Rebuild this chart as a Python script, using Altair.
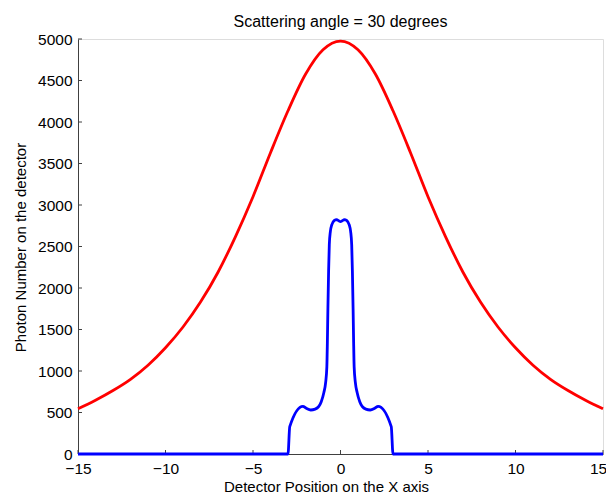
import altair as alt
import pandas as pd

# ---- data ----
red_x = [-15, -14, -13, -12, -11, -10, -9, -8, -7, -6, -5, -4, -3, -2, -1, 0,
         1, 2, 3, 4, 5, 6, 7, 8, 9, 10, 11, 12, 13, 14, 15]
red_y = [545, 648, 765, 900, 1070, 1280, 1530, 1830, 2190, 2620, 3100, 3630, 4135, 4575, 4870, 4975,
         4870, 4575, 4135, 3630, 3100, 2620, 2190, 1830, 1530, 1280, 1070, 900, 765, 648, 545]

blue_x = [-15, -3.0, -2.9, -2.15, -1.95, -1.7, -1.45, -1.25, -1.1, -0.95, -0.85, -0.78, -0.75,
          -0.72, -0.68, -0.64, -0.58, -0.5, -0.35, -0.22, -0.1, 0,
          0.1, 0.22, 0.35, 0.5, 0.58, 0.64, 0.68, 0.72, 0.75, 0.78, 0.85, 0.95, 1.1, 1.25,
          1.45, 1.7, 1.95, 2.15, 2.9, 3.0, 15]
blue_y = [0, 0, 330, 575, 550, 530, 540, 570, 630, 740, 860, 1050, 1350,
          1750, 2200, 2520, 2680, 2760, 2815, 2825, 2810, 2800,
          2810, 2825, 2815, 2760, 2680, 2520, 2200, 1750, 1350, 1050, 860, 740, 630, 570,
          540, 530, 550, 575, 330, 0, 0]

x_ticks = [-15, -10, -5, 0, 5, 10, 15]
y_ticks = [0, 500, 1000, 1500, 2000, 2500, 3000, 3500, 4000, 4500, 5000]

W, H = 525, 415
FONT = "Liberation Sans"
AX = "#404040"

red = pd.DataFrame({"x": red_x, "y": red_y})
blue = pd.DataFrame({"x": blue_x, "y": blue_y})
xt = pd.DataFrame({"t": x_ticks})
yt = pd.DataFrame({"t": y_ticks})

xscale = alt.Scale(domain=[-15, 15], nice=False, zero=False)
yscale = alt.Scale(domain=[0, 5000], nice=False, zero=False)

xaxis = alt.Axis(values=x_ticks, format="d", title="Detector Position on the X axis",
                 ticks=False, tickSize=0, labelPadding=7, grid=False, labelFlush=False,
                 labelOffset=alt.ExprRef(expr="datum.value == 15 ? -5 : 0"),
                 domainColor=AX, labelColor="black", labelFontSize=15.5, labelFont=FONT,
                 titleFontSize=15, titleFont=FONT, titleFontWeight="normal", titleColor="black",
                 titleX=248, titleY=37, titleBaseline="alphabetic", titleAlign="center")
yaxis = alt.Axis(values=y_ticks, format="d", title="Photon Number on the detector",
                 ticks=False, tickSize=0, labelPadding=6, grid=False, labelFlush=False,
                 domainColor=AX, labelColor="black", labelFontSize=15.5, labelFont=FONT,
                 titleFontSize=15, titleFont=FONT, titleFontWeight="normal", titleColor="black",
                 titleX=-58, titleY=208, titleAngle=270, titleBaseline="middle", titleAlign="center")

X = lambda f: alt.X(f, type="quantitative", scale=xscale, axis=xaxis)
Y = lambda f: alt.Y(f, type="quantitative", scale=yscale, axis=yaxis)

red_line = alt.Chart(red).mark_line(color="#ff0000", strokeWidth=2.8, interpolate="monotone").encode(
    x=X("x"), y=Y("y"))
blue_line = alt.Chart(blue).mark_line(color="#0000ff", strokeWidth=2.8, interpolate="monotone").encode(
    x=X("x"), y=Y("y"))

xtick_rules = alt.Chart(xt).mark_rule(color=AX, strokeWidth=1).encode(
    x=X("t"), y=alt.value(H), y2=alt.value(H - 4))
ytick_rules = alt.Chart(yt).mark_rule(color=AX, strokeWidth=1).encode(
    y=Y("t"), x=alt.value(0), x2=alt.value(4))

chart = alt.layer(xtick_rules, ytick_rules, red_line, blue_line).properties(
    width=W, height=H,
    title=alt.TitleParams("Scattering angle = 30 degrees", fontSize=16, fontWeight="normal",
                          font=FONT, color="black", offset=2, anchor="middle"),
    autosize=alt.AutoSizeParams(type="none"),
    padding={"left": 70, "top": 31, "right": 3, "bottom": 44},
).configure_view(stroke=None).configure(background="white")

chart.save("out.html", embed_options={"renderer": "svg", "actions": False})
